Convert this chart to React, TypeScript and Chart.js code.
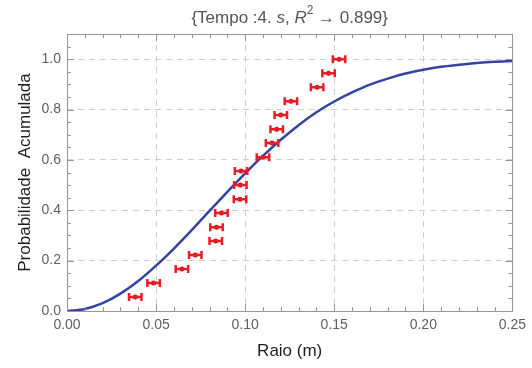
import React, { useEffect, useRef } from "react";
import { Chart, registerables } from "chart.js";

Chart.register(...registerables);

// Fitted curve
const curveX = [0, 0.01, 0.02, 0.03, 0.04, 0.05, 0.06, 0.07, 0.08, 0.09, 0.10, 0.11, 0.12, 0.13, 0.14, 0.15, 0.16, 0.17, 0.18, 0.19, 0.20, 0.21, 0.22, 0.23, 0.24, 0.25];
const curveY = [0, 0.008, 0.031, 0.069, 0.119, 0.180, 0.248, 0.321, 0.398, 0.473, 0.547, 0.616, 0.680, 0.738, 0.789, 0.832, 0.868, 0.899, 0.923, 0.943, 0.958, 0.970, 0.978, 0.985, 0.990, 0.993];

// Measured points with horizontal error bars
const pointX = [0.0383, 0.0486, 0.0645, 0.0720, 0.0835, 0.0839, 0.0867, 0.0971, 0.0973, 0.0977, 0.1100, 0.1151, 0.1177, 0.1200, 0.1257, 0.1404, 0.1468, 0.1527];
const pointY = [0.056, 0.111, 0.167, 0.222, 0.278, 0.333, 0.389, 0.444, 0.500, 0.556, 0.611, 0.667, 0.722, 0.778, 0.833, 0.889, 0.944, 1.000];
const pointErr = [0.0035, 0.0035, 0.0035, 0.0035, 0.0035, 0.0035, 0.0035, 0.0035, 0.0035, 0.0035, 0.0035, 0.0035, 0.0035, 0.0035, 0.0035, 0.0035, 0.0035, 0.0035];

const xTicks = [0, 0.05, 0.1, 0.15, 0.2, 0.25];
const yTicks = [0, 0.2, 0.4, 0.6, 0.8, 1.0];
const xMinor = [0.01, 0.02, 0.03, 0.04, 0.06, 0.07, 0.08, 0.09, 0.11, 0.12, 0.13, 0.14, 0.16, 0.17, 0.18, 0.19, 0.21, 0.22, 0.23, 0.24];
const yMinor = [0.05, 0.1, 0.15, 0.25, 0.3, 0.35, 0.45, 0.5, 0.55, 0.65, 0.7, 0.75, 0.85, 0.9, 0.95, 1.05];

const FONT = "'Liberation Sans', Arial, sans-serif";
const RED = "rgb(235,28,36)";
const BLUE = "rgb(52,68,160)";

const errorBarPlugin = {
  id: "errorBars",
  afterDatasetsDraw(chart: any) {
    const { ctx, scales } = chart;
    const xs = scales.x, ys = scales.y;
    ctx.save();
    ctx.strokeStyle = RED;
    ctx.lineWidth = 2.5;
    for (let i = 0; i < pointX.length; i++) {
      const x1 = xs.getPixelForValue(pointX[i] - pointErr[i]);
      const x2 = xs.getPixelForValue(pointX[i] + pointErr[i]);
      const y = ys.getPixelForValue(pointY[i]);
      ctx.beginPath();
      ctx.moveTo(x1, y);
      ctx.lineTo(x2, y);
      ctx.moveTo(x1, y - 4);
      ctx.lineTo(x1, y + 4);
      ctx.moveTo(x2, y - 4);
      ctx.lineTo(x2, y + 4);
      ctx.stroke();
    }
    ctx.restore();
  },
};

const framePlugin = {
  id: "frame",
  afterDraw(chart: any) {
    const { ctx, chartArea: a, scales } = chart;
    const xs = scales.x, ys = scales.y;
    ctx.save();
    ctx.strokeStyle = "rgb(150,150,150)";
    ctx.lineWidth = 1;
    ctx.strokeRect(Math.round(a.left) + 0.5, Math.round(a.top) + 0.5, Math.round(a.right - a.left), Math.round(a.bottom - a.top));
    const tick = (vals: number[], len: number) => {
      ctx.beginPath();
      for (const v of vals) {
        const px = Math.round(xs.getPixelForValue(v)) + 0.5;
        ctx.moveTo(px, a.bottom);
        ctx.lineTo(px, a.bottom - len);
        ctx.moveTo(px, a.top);
        ctx.lineTo(px, a.top + len);
      }
      ctx.stroke();
    };
    const tickY = (vals: number[], len: number) => {
      ctx.beginPath();
      for (const v of vals) {
        const py = Math.round(ys.getPixelForValue(v)) + 0.5;
        if (py < a.top || py > a.bottom) continue;
        ctx.moveTo(a.left, py);
        ctx.lineTo(a.left + len, py);
        ctx.moveTo(a.right, py);
        ctx.lineTo(a.right - len, py);
      }
      ctx.stroke();
    };
    tick(xTicks, 7);
    tick(xMinor, 4);
    tickY(yTicks, 7);
    tickY(yMinor, 4);

    // Title
    const cx = (a.left + a.right) / 2;
    const cy = 18;
    const segs: [string, string, number][] = [
      ["{Tempo :4. ", `17px ${FONT}`, 0],
      ["s", `italic 17px ${FONT}`, 0],
      [", ", `17px ${FONT}`, 0],
      ["R", `italic 17px ${FONT}`, 0],
      ["2", `12px ${FONT}`, -7],
      [" \u2192 0.899}", `17px ${FONT}`, 0],
    ];
    let total = 0;
    for (const s of segs) {
      ctx.font = s[1];
      total += ctx.measureText(s[0]).width;
    }
    let x = cx - total / 2;
    ctx.fillStyle = "rgb(85,85,85)";
    ctx.textBaseline = "middle";
    ctx.textAlign = "left";
    for (const s of segs) {
      ctx.font = s[1];
      ctx.fillText(s[0], x, cy + s[2]);
      x += ctx.measureText(s[0]).width;
    }
    ctx.restore();
  },
};

export default function App() {
  const ref = useRef<HTMLCanvasElement | null>(null);
  useEffect(() => {
    if (!ref.current) return;
    const chart = new Chart(ref.current, {
      type: "scatter",
      data: {
        datasets: [
          {
            label: "fit",
            data: curveX.map((x, i) => ({ x, y: curveY[i] })),
            showLine: true,
            borderColor: BLUE,
            borderWidth: 2.5,
            pointRadius: 0,
            cubicInterpolationMode: "monotone",
            order: 2,
          } as any,
          {
            label: "data",
            data: pointX.map((x, i) => ({ x, y: pointY[i] })),
            pointRadius: 2.5,
            pointBackgroundColor: "rgb(200,20,30)",
            pointBorderWidth: 0,
            borderColor: RED,
            order: 1,
          } as any,
        ],
      },
      options: {
        animation: false,
        responsive: false,
        devicePixelRatio: 1,
        layout: { padding: { top: 34, right: 15, left: 0, bottom: 0 } },
        plugins: {
          legend: { display: false },
          tooltip: { enabled: false },
        },
        scales: {
          x: {
            type: "linear",
            min: 0,
            max: 0.25,
            afterFit: (s: any) => { s.height = 57; },
            afterBuildTicks: (s: any) => { s.ticks = xTicks.map((v) => ({ value: v })); },
            grid: { color: "rgb(205,205,205)", drawTicks: false, lineWidth: 1 },
            border: { display: false, dash: [6, 5] },
            ticks: {
              padding: 6,
              color: "rgb(95,95,95)",
              font: { family: FONT, size: 14 },
              callback: (v: any) => Number(v).toFixed(2),
            },
            title: {
              display: true,
              text: "Raio (m)",
              color: "rgb(30,30,30)",
              font: { family: FONT, size: 17 },
              padding: { top: 0, bottom: 6 },
            },
          },
          y: {
            type: "linear",
            min: 0,
            max: 1.1,
            afterFit: (s: any) => { s.width = 67; },
            afterBuildTicks: (s: any) => { s.ticks = yTicks.map((v) => ({ value: v })); },
            grid: { color: "rgb(205,205,205)", drawTicks: false, lineWidth: 1 },
            border: { display: false, dash: [6, 5] },
            ticks: {
              padding: 6,
              color: "rgb(95,95,95)",
              font: { family: FONT, size: 14 },
              callback: (v: any) => Number(v).toFixed(1),
            },
            title: {
              display: true,
              text: "Probabilidade  Acumulada",
              color: "rgb(30,30,30)",
              font: { family: FONT, size: 17 },
              padding: { top: 15, bottom: 0 },
            },
          },
        },
      },
      plugins: [errorBarPlugin, framePlugin],
    });
    return () => chart.destroy();
  }, []);
  return (
    <div style={{ position: "fixed", left: 0, top: 0, width: 532, height: 368, background: "#fff" }}>
      <canvas ref={ref} width={532} height={368} style={{ display: "block", width: 532, height: 368 }} />
    </div>
  );
}
